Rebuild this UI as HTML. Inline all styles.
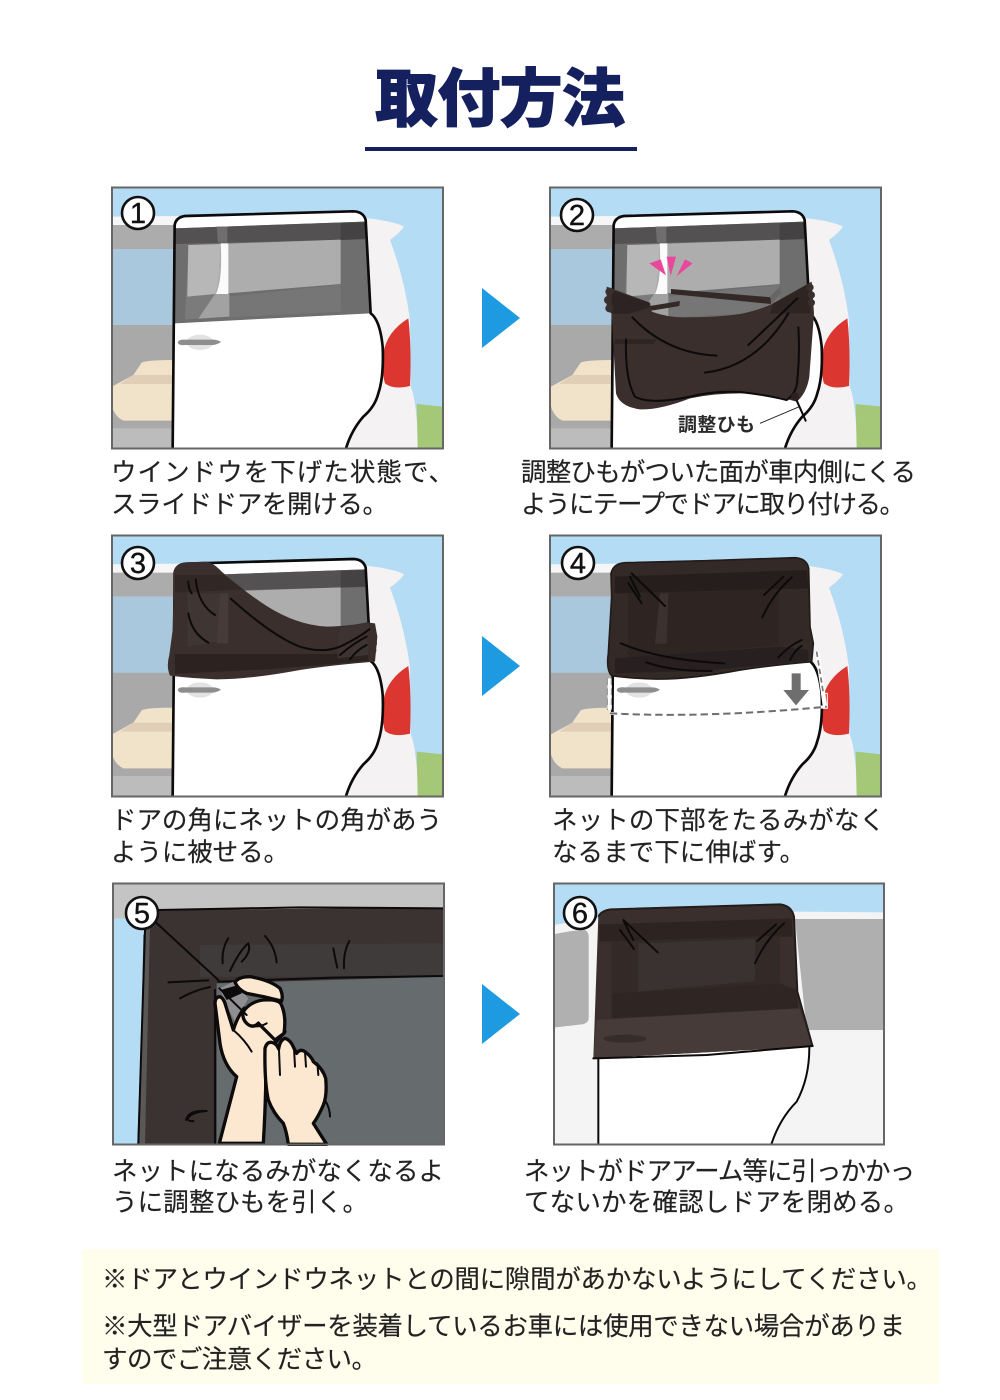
<!DOCTYPE html>
<html lang="ja"><head><meta charset="utf-8"><title>取付方法</title>
<style>
html,body{margin:0;padding:0;background:#fff}
svg{display:block}
.t{font-family:"Liberation Sans","Noto Sans CJK JP",sans-serif;font-size:25.5px;fill:#222;stroke:#222;stroke-width:.15;font-weight:400}
.n{font-family:"Liberation Sans",sans-serif;font-size:29px;fill:#111;stroke:#111;stroke-width:.4;text-anchor:middle}
.l{fill:none;stroke:#0c0a0a;stroke-width:6;stroke-linecap:round;stroke-linejoin:round}
.h{fill:#fce8d0;stroke:#0c0a0a;stroke-width:10;stroke-linejoin:round;stroke-linecap:round}
</style></head><body>
<svg xmlns="http://www.w3.org/2000/svg" width="1000" height="1400" viewBox="0 0 1000 1400">
<defs>
<clipPath id="c"><rect x="36" y="22" width="992" height="783"/></clipPath>
<g id="scene" clip-path="url(#c)">
<rect x="36" y="22" width="992" height="783" fill="#b5dcf5"/>
<path d="M36,110 L240,108 V140 H36Z" fill="#f6f6f6"/>
<rect x="36" y="135" width="200" height="72" fill="#acacac"/>
<rect x="36" y="207" width="200" height="228" fill="#a9c8dd"/>
<rect x="36" y="435" width="200" height="370" fill="#a9a9a9"/>
<path d="M36,620 L100,585 L125,548 Q140,540 230,540 V722 L70,722 Q45,710 36,680Z" fill="#f1e2ca"/>
<path d="M60,612 L100,585 H230 V612Z" fill="#e0cfb6"/>
<rect x="36" y="745" width="200" height="60" fill="#bcbcbc"/>
<path d="M780,112 Q880,122 912,140 Q900,158 870,180 Q915,300 930,420 L932,620 Q950,660 955,805 H700Z" fill="#f4f2f2"/>
<path d="M925,415 Q860,455 850,520 Q845,580 855,610 Q880,630 930,618 Q935,500 925,415Z" fill="#db3630"/>
<path d="M950,672 L1028,680 V805 H953Z" fill="#a4c878"/>
<path d="M218,805 L224,135 Q228,112 255,108 L760,94 Q790,95 797,120 L812,400 Q840,420 848,500 Q852,590 835,640 Q825,680 790,710 Q755,750 738,805Z" fill="#fff"/>
<path d="M225,145 L795,125 L811,400 L225,430Z" fill="#6f6e6e"/>
<path d="M225,145 L795,125 V178 L225,192Z" fill="#535151"/>
<path d="M265,195 L722,179 V312 L262,350Z" fill="#adadad"/>
<path d="M388,350 L722,314 V395 L388,412Z" fill="#767676"/>
<path d="M265,195 H360 Q362,300 345,340 Q325,380 295,416 L255,418Z" fill="#7b7b7b"/>
<path d="M265,195 H360 Q362,300 345,342 L262,350Z" fill="#b7b7b7"/>
<path d="M345,342 L295,416 L388,410 V342Z" fill="#a2a2a2"/>
<path d="M362,190 H385 V342 H348 Q368,300 362,190Z" fill="#fbfbfb"/>
<path d="M350,140 H382 V188 H354Z" fill="#6f6d6d"/>
<path d="M722,130 L795,127 V176 L722,180Z" fill="#444242"/>
<ellipse cx="300" cy="487" rx="40" ry="23" fill="#e2e2e2"/>
<path d="M233,487 Q236,478 255,479 H340 Q355,480 363,486 Q355,492 340,495 H255 Q236,497 233,487Z" fill="#8d8d8d"/>
<path d="M218,805 L224,135 Q228,112 255,108 L760,94 Q790,95 797,120 L812,400 Q840,420 848,500 Q852,590 835,640 Q825,680 790,710 Q755,750 738,805" fill="none" stroke="#0c0a0a" stroke-width="8" stroke-linejoin="round"/>
</g>
</defs>

<!-- title -->
<text x="375" y="121" textLength="250" lengthAdjust="spacing" font-family="'Liberation Sans','Noto Sans CJK JP',sans-serif" font-size="63" font-weight="900" fill="#15205e" stroke="#15205e" stroke-width="1">取付方法</text>
<rect x="365" y="147" width="272" height="4" fill="#15205e"/>

<!-- panel 1 -->
<g transform="translate(100,180) scale(.33333)"><use href="#scene"/></g>
<rect x="112" y="187.5" width="331" height="261" fill="none" stroke="#666" stroke-width="2"/>

<!-- panel 2 -->
<g transform="translate(540,180) scale(.33333)"><use href="#scene" x="-3"/>
<path d="M200,320 L330,368 L335,395 Q380,412 430,412 Q530,412 600,402 Q660,390 700,370 L815,305 L822,400 L808,590 Q800,640 770,665 Q680,640 600,640 Q520,640 450,655 Q360,690 300,688 Q240,680 228,640 L215,400 L200,392Z" fill="#3a2f2d"/>
<path d="M215,330 L325,368 L330,382 L262,402 L215,400Z" fill="#2c2322"/>
<path d="M700,370 L808,310 L812,400 L690,400Z" fill="#2e2523"/>
<path d="M225,478 H350 L340,492 L225,492Z" fill="#2e2523"/>
<path d="M393,327 L695,352 L692,372 L393,342Z" fill="#332a28"/>
<path d="M330,378 L420,363 L418,378 L335,392Z" fill="#332a28"/>
<path d="M690,350 L722,318 L722,340 L695,372Z" fill="#666"/>
<circle cx="208" cy="335" r="12" fill="#3a2f2d"/><circle cx="204" cy="360" r="12" fill="#3a2f2d"/><circle cx="208" cy="385" r="12" fill="#3a2f2d"/>
<circle cx="810" cy="322" r="11" fill="#3a2f2d"/><circle cx="814" cy="345" r="11" fill="#3a2f2d"/><circle cx="814" cy="368" r="11" fill="#3a2f2d"/>
<path class="l" d="M258,478 Q255,600 285,650 Q330,675 450,650 Q520,632 600,636 Q680,645 740,660 Q770,640 772,600 Q780,520 775,442"/>
<path class="l" d="M277,412 Q380,520 530,527"/>
<path class="l" d="M495,578 Q650,560 745,400"/>
<path class="l" d="M625,495 Q700,425 772,355"/>
<path class="l" d="M765,650 L797,722" stroke-width="4"/>
<circle cx="765" cy="650" r="12" fill="#2a2120"/>
<path d="M660,730 L778,680" stroke="#222" stroke-width="3" fill="none"/>
<path d="M328,250 L362,238 L378,286Z M380,230 H408 L392,288Z M458,250 L435,238 L410,288Z" fill="#e8479b"/>
</g>
<text x="678" y="431" textLength="77" lengthAdjust="spacing" font-family="'Liberation Sans','Noto Sans CJK JP',sans-serif" font-size="19" font-weight="700" fill="#2a2a2a">調整ひも</text>
<rect x="550" y="187.5" width="331" height="261" fill="none" stroke="#666" stroke-width="2"/>

<!-- panel 3 -->
<g transform="translate(100,530) scale(.33333)"><use href="#scene" y="-7"/>
<path d="M222,125 Q228,98 258,97 L318,95 Q340,98 365,125 Q440,190 500,228 Q590,285 680,290 Q750,288 800,277 L825,280 L832,320 L825,395 Q700,405 600,420 Q450,448 350,448 Q270,445 210,437 Q198,410 208,375 L218,300Z" fill="#3a2f2d"/>
<path d="M225,135 H372 L430,178 L225,188Z" fill="#312826"/>
<path d="M262,190 H360 L350,335 L262,350Z" fill="#3f3533"/>
<path d="M360,190 H385 V340 H350Z" fill="#463b38"/>
<path d="M225,372 H700 L805,362 V392 L700,402 L500,418 L225,432Z" fill="#2c2321"/>
<path d="M720,292 L805,280 L805,375 L712,385Z" fill="#3d3332"/>
<path class="l" d="M265,155 Q265,175 275,190"/><path class="l" d="M287,148 Q295,225 345,255"/>
<path class="l" d="M265,250 Q275,310 325,338"/>
<path class="l" d="M392,206 Q520,320 600,350 Q680,375 740,340 Q780,320 808,298"/>
<path class="l" d="M720,375 Q760,340 800,320" stroke-width="4"/><path class="l" d="M750,388 Q770,360 800,345" stroke-width="4"/>
<circle cx="818" cy="315" r="11" fill="#3a2f2d"/><circle cx="820" cy="340" r="11" fill="#3a2f2d"/><circle cx="818" cy="362" r="11" fill="#3a2f2d"/>
</g>
<rect x="112" y="535.5" width="331" height="261" fill="none" stroke="#666" stroke-width="2"/>

<!-- panel 4 -->
<g transform="translate(540,530) scale(.33333)"><use href="#scene" x="-3" y="-7"/>
<path d="M213,130 Q220,100 255,98 L500,92 L765,83 Q800,85 806,115 L810,290 L820,340 L815,395 Q700,405 600,420 Q450,448 350,447 Q270,445 215,437 Q198,420 205,370 L215,200Z" fill="#332927" stroke="#231b19" stroke-width="5"/>
<path d="M225,140 L800,120 L805,175 L225,190Z" fill="#261e1c"/>
<path d="M265,190 L715,178 L715,345 L265,385Z" fill="#2e2523"/>
<path d="M360,190 H385 L380,340 L345,342Z" fill="#3b312e"/>
<path d="M225,385 L715,350 L805,360 V392 L500,422 L225,430Z" fill="#282020"/>
<path class="l" d="M265,160 L305,220" stroke-width="4"/><path class="l" d="M275,130 L375,228" stroke-width="5"/><path class="l" d="M270,140 L300,200" stroke-width="4"/>
<path class="l" d="M672,195 L730,140" stroke-width="4"/><path class="l" d="M667,262 Q700,190 755,142" stroke-width="5"/>
<path class="l" d="M242,340 Q360,390 553,400"/><path class="l" d="M318,397 Q400,425 515,423"/>
<path class="l" d="M715,382 Q750,345 785,330" stroke-width="4"/><path class="l" d="M750,390 Q765,360 785,348" stroke-width="4"/>
<path d="M209,445 V540 M832,365 L855,530" fill="none" stroke="#fff" stroke-width="13"/>
<path d="M202,445 V540 M214,445 V540" fill="none" stroke="#888" stroke-width="3" stroke-dasharray="20 10"/>
<path d="M830,365 L850,490" fill="none" stroke="#777" stroke-width="5" stroke-dasharray="16 10"/>
<rect x="850" y="490" width="12" height="45" fill="none" stroke="#fff" stroke-width="3"/>
<path d="M210,550 Q500,565 860,530" fill="none" stroke="#fff" stroke-width="9"/>
<path d="M210,550 Q500,565 860,530" fill="none" stroke="#6e6e6e" stroke-width="6" stroke-dasharray="22 12"/>
<path d="M755,430 H782 V480 H807 L768,526 L730,480 H755Z" fill="#6e6e6e"/>
</g>
<rect x="550" y="535.5" width="331" height="261" fill="none" stroke="#666" stroke-width="2"/>

<!-- panel 5 -->
<g transform="translate(100,875) scale(.33333)">
<rect x="38" y="25" width="995" height="783" fill="#c4c4c4"/>
<path d="M38,130 H135 L112,808 H38Z" fill="#b5dcf5"/>
<path d="M135,165 L175,105 L1033,98 V808 H112Z" fill="#3a3332"/>
<path d="M300,210 L1033,205 V305 H300Z" fill="#403b3b"/>
<path d="M130,180 L150,150 L135,808 H118Z" fill="#5c5757"/>
<path d="M350,325 L1033,305 V808 H350Z" fill="#666b6e"/>
<path class="l" d="M175,105 L600,97 L1030,100" stroke-width="10"/>
<path class="l" d="M135,165 L115,805" stroke-width="13"/>
<path class="l" d="M355,320 L700,308 L1028,303" stroke-width="9"/>
<path class="l" d="M345,345 L345,805" stroke-width="14"/>
<path class="l" d="M165,140 L355,315" stroke-width="5"/>
<path class="l" d="M205,322 L325,316"/><path class="l" d="M240,370 Q285,345 330,336"/>
<path class="l" d="M368,265 Q365,220 385,190"/><path class="l" d="M390,288 Q420,225 445,205 Q455,230 425,260" stroke-width="5"/>
<path class="l" d="M495,183 Q525,215 530,262"/>
<path class="l" d="M700,220 Q705,250 712,278"/><path class="l" d="M748,198 Q730,230 732,280"/>
<path class="l" d="M258,735 Q265,705 320,708 Q280,710 265,728 Q260,740 280,738"/>
<path class="l" d="M675,675 Q690,700 690,725" stroke-width="5"/>
<path d="M360,340 L400,320 L445,370 L405,440 L375,385Z" fill="#8f8e90"/>
<path class="h" d="M345,385 Q345,365 360,365 Q372,370 378,395 L400,465 Q410,430 432,400 L520,400 L555,470 L520,510 L497,530 L497,640 Q495,720 490,805 H358 L410,605 Q370,570 360,505 Z"/>
<path class="l" d="M400,465 Q435,495 455,530" stroke-width="10"/>
<path class="h" d="M405,322 Q415,305 450,305 Q510,315 540,340 Q550,360 545,378 Q510,370 490,365 L440,355 Q415,345 405,322Z"/>
<path class="h" d="M430,410 Q450,380 490,375 Q530,372 542,385 Q560,420 552,475 L525,495 L475,445 Q458,462 440,445 Q425,430 430,410Z"/>
<path class="l" d="M440,447 Q470,462 500,445" stroke-width="8"/>
<path class="l" d="M475,442 L530,500" stroke-width="11"/>
<path class="l" d="M358,340 L440,420" stroke-width="6"/>
<path d="M362,345 L415,330 L425,355 L380,375Z" fill="#0c0a0a"/>
<path class="h" d="M495,520 Q500,500 515,502 Q530,505 536,522 Q540,495 555,490 Q572,495 582,520 L590,535 Q600,520 615,530 Q635,545 640,560 Q668,580 677,610 Q682,660 670,690 Q655,725 640,745 L680,808 H565 Q560,770 550,745 Q520,715 505,675 Q493,620 495,520Z"/>
<path class="l" d="M537,525 L540,600 M582,520 L585,575 M615,530 L618,575 M652,565 L655,600" stroke-width="8"/>
</g>
<rect x="113" y="883.5" width="331" height="261" fill="none" stroke="#666" stroke-width="2"/>

<!-- panel 6 -->
<g transform="translate(540,875) scale(.33333)">
<rect x="40" y="25" width="993" height="783" fill="#f4f4f4"/>
<path d="M40,25 H1033 V112 L765,110 L175,130 L40,150Z" fill="#b5dcf5"/>
<path d="M765,132 L1033,132 V465 L800,465Z" fill="#afafaf"/>
<path d="M40,178 Q100,165 135,165 Q147,170 146,190 V430 Q145,445 125,448 L40,458Z" fill="#b0b0b0"/>
<path d="M175,805 V548 L808,515 Q808,610 770,680 Q720,730 695,805Z" fill="#fff"/>
<path d="M175,125 Q185,105 215,103 L720,88 Q755,92 762,125 L772,350 L818,515 L160,550Z" fill="#3a2f2d"/>
<path d="M178,148 L755,130 L758,185 L178,200Z" fill="#2d2422"/>
<path d="M215,200 L720,182 V330 L215,360Z" fill="#332a28"/>
<path d="M295,205 L645,192 V318 L295,350Z" fill="#3a3231"/>
<path d="M215,355 L720,325 L770,345 L775,400 L215,430Z" fill="#2f2624"/>
<path d="M170,435 L778,400 L818,515 L160,550Z" fill="#463b39"/>
<ellipse cx="255" cy="491" rx="65" ry="12" fill="#362d2b"/>
<path d="M175,125 Q185,105 215,103 L720,88 Q755,92 762,125 L772,350 L818,515" fill="none" stroke="#241c1a" stroke-width="6"/>
<path class="l" d="M160,550 L500,540 L818,513" stroke-width="6"/>
<path class="l" d="M175,552 V805" stroke-width="6"/>
<path class="l" d="M808,518 Q808,610 770,680 Q720,730 695,805" stroke-width="6"/>
<path class="l" d="M240,165 L282,222" stroke-width="5"/><path class="l" d="M250,135 L353,232" stroke-width="5"/><path class="l" d="M252,140 L280,195" stroke-width="4"/>
<path class="l" d="M652,198 L708,148" stroke-width="5"/><path class="l" d="M645,265 Q680,190 732,145" stroke-width="5"/>
</g>
<rect x="554" y="883.5" width="330" height="261" fill="none" stroke="#666" stroke-width="2"/>

<!-- numbers -->
<g fill="#fff" stroke="#111" stroke-width="2.6">
<circle cx="138" cy="213" r="16"/><circle cx="577" cy="215" r="16"/>
<circle cx="138" cy="563" r="16"/><circle cx="578" cy="563" r="16"/>
<circle cx="142" cy="913" r="16"/><circle cx="580" cy="913" r="16"/>
</g>
<text class="n" x="138" y="223">1</text><text class="n" x="577" y="225">2</text>
<text class="n" x="138" y="573">3</text><text class="n" x="578" y="573">4</text>
<text class="n" x="142" y="923">5</text><text class="n" x="580" y="923">6</text>

<!-- arrows -->
<g fill="#1e9be0">
<path d="M482,288 L520,318 L482,348Z"/><path d="M482,636 L520,666 L482,696Z"/><path d="M482,984 L520,1014 L482,1044Z"/>
</g>

<!-- captions -->
<text class="t" x="111" y="481" textLength="343" lengthAdjust="spacing">ウインドウを下げた状態で、</text>
<text class="t" x="111" y="513" textLength="277" lengthAdjust="spacing">スライドドアを開ける。</text>
<text class="t" x="521" y="481" textLength="395" lengthAdjust="spacing">調整ひもがついた面が車内側にくる</text>
<text class="t" x="521" y="513" textLength="384" lengthAdjust="spacing">ようにテープでドアに取り付ける。</text>
<text class="t" x="111" y="829" textLength="331" lengthAdjust="spacing">ドアの角にネットの角があう</text>
<text class="t" x="111" y="861" textLength="178" lengthAdjust="spacing">ように被せる。</text>
<text class="t" x="552" y="829" textLength="333" lengthAdjust="spacing">ネットの下部をたるみがなく</text>
<text class="t" x="552" y="861" textLength="253" lengthAdjust="spacing">なるまで下に伸ばす。</text>
<text class="t" x="112" y="1180" textLength="332" lengthAdjust="spacing">ネットになるみがなくなるよ</text>
<text class="t" x="112" y="1211" textLength="256" lengthAdjust="spacing">うに調整ひもを引く。</text>
<text class="t" x="524" y="1180" textLength="391" lengthAdjust="spacing">ネットがドアアーム等に引っかかっ</text>
<text class="t" x="524" y="1211" textLength="385" lengthAdjust="spacing">てないかを確認しドアを閉める。</text>

<!-- note -->
<rect x="82" y="1249" width="857" height="135" fill="#fffdec"/>
<text class="t" x="102" y="1288" textLength="830" lengthAdjust="spacing">※ドアとウインドウネットとの間に隙間があかないようにしてください。</text>
<text class="t" x="102" y="1335" textLength="803" lengthAdjust="spacing">※大型ドアバイザーを装着しているお車には使用できない場合がありま</text>
<text class="t" x="102" y="1368" textLength="275" lengthAdjust="spacing">すのでご注意ください。</text>
</svg>
</body></html>
